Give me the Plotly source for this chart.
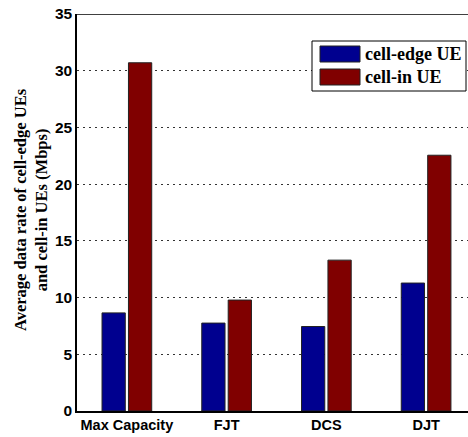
import plotly.graph_objects as go

categories = ["Max Capacity", "FJT", "DCS", "DJT"]
cell_edge = [8.65, 7.75, 7.45, 11.28]
cell_in = [30.7, 9.78, 13.3, 22.55]
series_names = ["cell-edge UE", "cell-in UE"]
y_ticks = [0, 5, 10, 15, 20, 25, 30, 35]

BLUE = "rgb(0,0,143)"
RED = "rgb(128,0,0)"

W, H = 468, 437
L, R, T, B = 77, 0, 14, 26
pw, ph = W - L - R, H - T - B

def px(x):
    return (x - L) / pw

def py(y):
    return (H - B - y) / ph

xs = [1, 2, 3, 4]

fig = go.Figure()
fig.add_trace(go.Bar(x=xs, y=cell_edge, name=series_names[0], marker=dict(color=BLUE, line=dict(color="#222", width=1)), showlegend=False))
fig.add_trace(go.Bar(x=xs, y=cell_in, name=series_names[1], marker=dict(color=RED, line=dict(color="#222", width=1)), showlegend=False))

shapes = []
# top border
shapes.append(dict(type="line", xref="paper", yref="y", x0=0, x1=1, y0=35, y1=35, line=dict(color="black", width=1.5)))
# legend box
shapes.append(dict(type="rect", xref="paper", yref="paper", x0=px(312), x1=px(466), y0=py(41), y1=py(91),
                   line=dict(color="black", width=1), fillcolor="white", layer="above"))
shapes.append(dict(type="rect", xref="paper", yref="paper", x0=px(320), x1=px(360), y0=py(46), y1=py(62),
                   line=dict(color="#222", width=1), fillcolor=BLUE, layer="above"))
shapes.append(dict(type="rect", xref="paper", yref="paper", x0=px(320), x1=px(360), y0=py(69), y1=py(85),
                   line=dict(color="#222", width=1), fillcolor=RED, layer="above"))

serif_bold = dict(family="Liberation Serif", size=18, color="black", weight="bold")
annotations = [
    dict(text=series_names[0], xref="paper", yref="paper", x=px(363), y=py(54), xanchor="left", yanchor="middle",
         showarrow=False, font=serif_bold),
    dict(text=series_names[1], xref="paper", yref="paper", x=px(363), y=py(77), xanchor="left", yanchor="middle",
         showarrow=False, font=serif_bold),
    dict(text="Average data rate of cell-edge UEs<br>and cell-in UEs (Mbps)", xref="paper", yref="paper",
         x=px(31), y=py(210), xanchor="center", yanchor="middle", textangle=-90, showarrow=False,
         font=dict(family="Liberation Serif", size=16.5, color="black", weight="bold")),
]

fig.update_layout(
    width=W, height=H,
    margin=dict(l=L, r=R, t=T, b=B),
    paper_bgcolor="white", plot_bgcolor="white",
    barmode="group", bargap=0.47, bargroupgap=0.12,
    shapes=shapes, annotations=annotations,
    font=dict(family="Liberation Sans", color="black"),
)
fig.update_xaxes(range=[0.5, 4.42], tickvals=xs, ticktext=categories, showline=True, linecolor="black", linewidth=1.5,
                 showgrid=False, zeroline=False, ticks="", tickfont=dict(family="Liberation Sans", size=14.5, color="black", weight="bold"))
fig.update_yaxes(range=[0, 35], tickvals=y_ticks, showline=True, linecolor="black", linewidth=1.5,
                 showgrid=True, gridcolor="#333", griddash="2px,4px", gridwidth=1, zeroline=False, ticks="",
                 tickfont=dict(family="Liberation Sans", size=15.5, color="black", weight="bold"))

fig.write_html("out.html")
